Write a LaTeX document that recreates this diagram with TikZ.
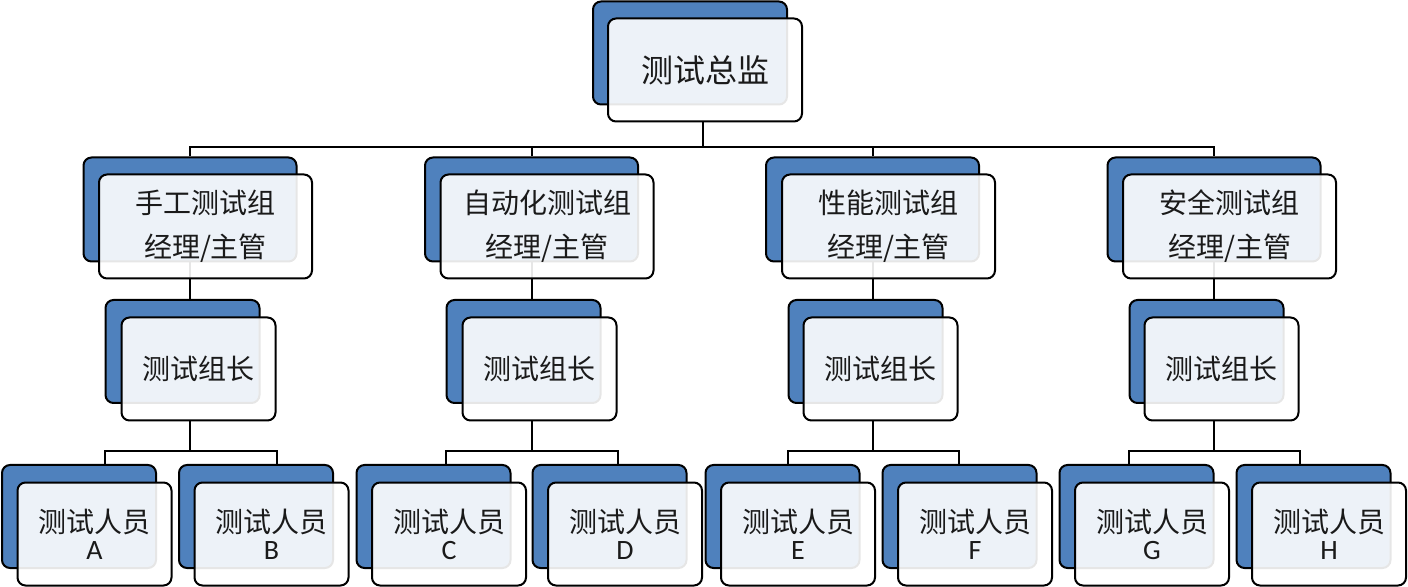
\documentclass[tikz,border=0pt]{standalone}
\usepackage{fontspec}
\setmainfont{Noto Sans CJK SC}
\newfontfamily\latinf{Carlito}
\usetikzlibrary{backgrounds}
\definecolor{backblue}{HTML}{4F81BD}
\definecolor{txt}{HTML}{1A1A1A}
\newcommand{\wl}[1]{{\latinf\fontsize{14}{13.6}\selectfont #1}}
\begin{document}
\begin{tikzpicture}[x=0.5pt,y=-0.5pt,
  box/.style={rectangle,rounded corners=4pt,draw=black,line width=1pt,inner sep=0pt},
  back/.style={box,fill=backblue},
  front/.style={box,fill=white,fill opacity=0.9,text opacity=1,text=txt,align=center},
  topsz/.style={minimum width=97pt,minimum height=51.5pt},
  mgrsz/.style={minimum width=106.5pt,minimum height=52pt},
  smsz/.style={minimum width=77pt,minimum height=51.5pt},
  mgrtxt/.style={font=\fontsize{14}{22}\selectfont},
  ldrtxt/.style={font=\fontsize{14}{16}\selectfont},
  wrktxt/.style={font=\fontsize{14}{13.6}\selectfont},
  link/.style={line width=1pt,draw=black}
]
\useasboundingbox (0,0) rectangle (1408,587);

% top
\node[back,topsz] (dirB) at (690,53) {};
\node[front,topsz,font=\fontsize{16}{20}\selectfont] (dirF) at (705,70) {测试总监};

% managers
\node[back,mgrsz] (m1B) at (190,209.5) {};
\node[front,mgrsz,mgrtxt] (m1F) at (205.5,226.5) {手工测试组\\经理/主管};
\node[back,mgrsz] (m2B) at (531.5,209.5) {};
\node[front,mgrsz,mgrtxt] (m2F) at (547,226.5) {自动化测试组\\经理/主管};
\node[back,mgrsz] (m3B) at (872.5,209.5) {};
\node[front,mgrsz,mgrtxt] (m3F) at (888.5,226.5) {性能测试组\\经理/主管};
\node[back,mgrsz] (m4B) at (1214,209.5) {};
\node[front,mgrsz,mgrtxt] (m4F) at (1229.5,226.5) {安全测试组\\经理/主管};

% leaders
\node[back,smsz] (l1B) at (182.5,351.5) {};
\node[front,smsz,ldrtxt] (l1F) at (198.5,369) {测试组长};
\node[back,smsz] (l2B) at (523.5,351.5) {};
\node[front,smsz,ldrtxt] (l2F) at (539.5,369) {测试组长};
\node[back,smsz] (l3B) at (865.5,351.5) {};
\node[front,smsz,ldrtxt] (l3F) at (880.5,369) {测试组长};
\node[back,smsz] (l4B) at (1206.5,351.5) {};
\node[front,smsz,ldrtxt] (l4F) at (1221.5,369) {测试组长};

% workers
\node[back,smsz] (w1B) at (79,516.5) {};
\node[front,smsz,wrktxt] (w1F) at (94.5,534) {测试人员\\\wl{A}};
\node[back,smsz] (w2B) at (256,516.5) {};
\node[front,smsz,wrktxt] (w2F) at (271.5,534) {测试人员\\\wl{B}};
\node[back,smsz] (w3B) at (433.5,516.5) {};
\node[front,smsz,wrktxt] (w3F) at (449,534) {测试人员\\\wl{C}};
\node[back,smsz] (w4B) at (609.5,516.5) {};
\node[front,smsz,wrktxt] (w4F) at (625,534) {测试人员\\\wl{D}};
\node[back,smsz] (w5B) at (782.5,516.5) {};
\node[front,smsz,wrktxt] (w5F) at (798,534) {测试人员\\\wl{E}};
\node[back,smsz] (w6B) at (959.5,516.5) {};
\node[front,smsz,wrktxt] (w6F) at (975,534) {测试人员\\\wl{F}};
\node[back,smsz] (w7B) at (1136.5,516.5) {};
\node[front,smsz,wrktxt] (w7F) at (1152,534) {测试人员\\\wl{G}};
\node[back,smsz] (w8B) at (1313.5,516.5) {};
\node[front,smsz,wrktxt] (w8F) at (1329,534) {测试人员\\\wl{H}};

\coordinate (barT) at (0,147);
\coordinate (barW) at (0,451.5);

\begin{scope}[on background layer]
  % director to managers
  \draw[link] ([xshift=-1pt]dirF.south) -- ([xshift=-1pt]dirF.south |- barT);
  \draw[link] (m1B.north) -- (m1B.north |- barT) -- (m4B.north |- barT) -- (m4B.north);
  \draw[link] (m2B.north) -- (m2B.north |- barT);
  \draw[link] (m3B.north) -- (m3B.north |- barT);
  % managers to leaders
  \draw[link] (m1B.south) -- (m1B.south |- l1B.north);
  \draw[link] (m2B.south) -- (m2B.south |- l2B.north);
  \draw[link] (m3B.south) -- (m3B.south |- l3B.north);
  \draw[link] (m4B.south) -- (m4B.south |- l4B.north);
  % leaders to workers
  \draw[link] (m1B.south |- l1F.south) -- (m1B.south |- barW);
  \draw[link] (w1B.north -| l1B.west) -- (barW -| l1B.west) -- (barW -| l1F.east) -- (w2B.north -| l1F.east);
  \draw[link] (m2B.south |- l2F.south) -- (m2B.south |- barW);
  \draw[link] (w3B.north -| l2B.west) -- (barW -| l2B.west) -- (barW -| l2F.east) -- (w4B.north -| l2F.east);
  \draw[link] (m3B.south |- l3F.south) -- (m3B.south |- barW);
  \draw[link] (w5B.north -| l3B.west) -- (barW -| l3B.west) -- (barW -| l3F.east) -- (w6B.north -| l3F.east);
  \draw[link] (m4B.south |- l4F.south) -- (m4B.south |- barW);
  \draw[link] (w7B.north -| l4B.west) -- (barW -| l4B.west) -- (barW -| l4F.east) -- (w8B.north -| l4F.east);
\end{scope}
\end{tikzpicture}
\end{document}
